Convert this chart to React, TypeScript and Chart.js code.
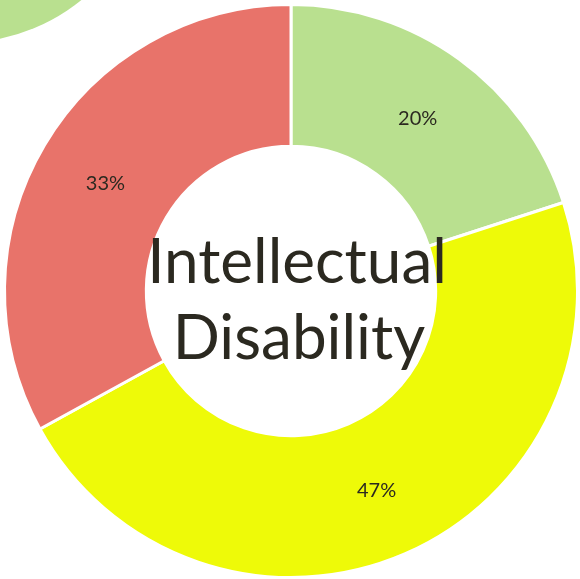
import React, { useEffect, useRef } from "react";
import { Chart, registerables } from "chart.js";

Chart.register(...registerables);

const categories = ["Green", "Yellow", "Red"];
const values = [20, 47, 33];
const colors = ["#b9e08f", "#eefa08", "#e8736a"];
const percentLabels = ["20%", "47%", "33%"];
const centerLines = ["Intellectual", "Disability"];

const FONT = "Lato, 'Noto Sans', sans-serif";
const TEXT = "#2b2920";

const labelPlugin = {
  id: "labels",
  afterDraw(chart: any) {
    const ctx = chart.ctx;
    const meta = chart.getDatasetMeta(0);
    ctx.save();
    ctx.fillStyle = TEXT;
    ctx.textAlign = "center";
    ctx.textBaseline = "middle";
    ctx.font = `20px ${FONT}`;
    meta.data.forEach((arc: any, i: number) => {
      const p = arc.tooltipPosition();
      ctx.fillText(percentLabels[i], p.x, p.y + 2);
    });
    const first = meta.data[0];
    const cx = first.x;
    const cy = first.y;
    ctx.font = `62px ${FONT}`;
    ctx.fillText(centerLines[0], cx + 6, cy - 28);
    ctx.fillText(centerLines[1], cx + 8, cy + 48);
    ctx.restore();
  },
};

export default function App() {
  const ref = useRef<HTMLCanvasElement>(null);
  useEffect(() => {
    if (!ref.current) return;
    const chart = new Chart(ref.current, {
      type: "doughnut",
      data: {
        labels: categories,
        datasets: [
          {
            data: values,
            backgroundColor: colors,
            borderColor: "#ffffff",
            borderWidth: 3,
          },
        ],
      },
      options: {
        animation: false,
        responsive: false,
        cutout: "50.5%",
        layout: { padding: { top: 3, left: 3, right: 1, bottom: 0 } },
        plugins: {
          legend: { display: false },
          tooltip: { enabled: false },
        },
      },
      plugins: [labelPlugin],
    });
    return () => chart.destroy();
  }, []);
  return (
    <div style={{ position: "fixed", left: 0, top: 0, width: 580, height: 579, background: "#fff", overflow: "hidden" }}>
      <div
        style={{
          position: "absolute",
          left: -233,
          top: -343,
          width: 386,
          height: 386,
          borderRadius: "50%",
          background: "#b9e08f",
        }}
      />
      <canvas ref={ref} width={580} height={579} style={{ position: "absolute", left: 0, top: 0 }} />
    </div>
  );
}
